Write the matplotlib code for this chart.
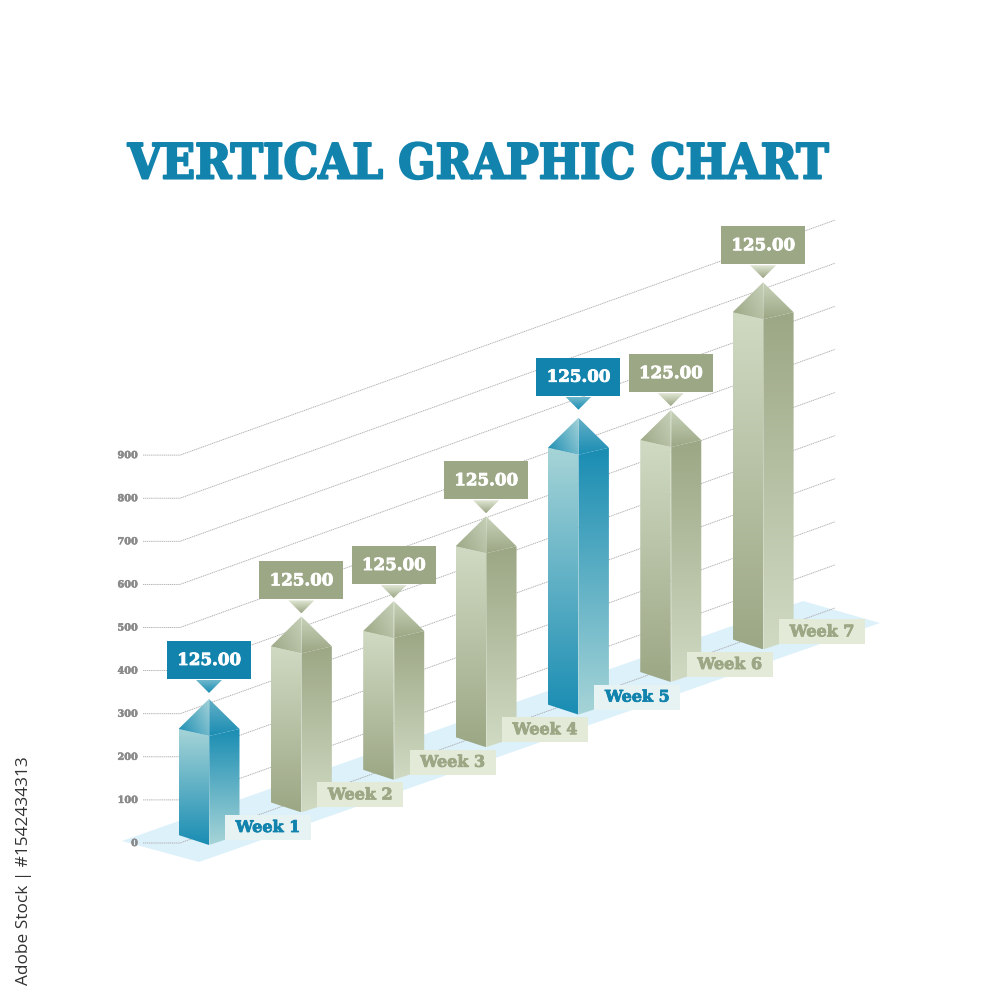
import numpy as np
import matplotlib
matplotlib.use('Agg')
import matplotlib.pyplot as plt
import matplotlib.patheffects as pe
from matplotlib.colors import to_rgb
from matplotlib.patches import Polygon, Rectangle

title = "VERTICAL GRAPHIC CHART"
weeks = ["Week 1", "Week 2", "Week 3", "Week 4", "Week 5", "Week 6", "Week 7"]
bar_values = [246, 362, 322, 443, 596, 538, 759]
bar_labels = ["125.00"] * 7
highlighted = [True, False, False, False, True, False, False]
ticks = [0, 100, 200, 300, 400, 500, 600, 700, 800, 900]

BLUE = '#1283ad'
OLIVE = '#9ca785'
SLAB = 'DejaVu Serif'

# isometric layout, everything in pixels of the 1000x1000 image
PX_PER_UNIT = 0.431
Y0 = 843
GRID_X0, GRID_X1 = 180, 835
GRID_RISE = 235
BAR_X0, BAR_DX = 209, 92.35
BAR_Y0, BAR_DY = 835, -32.6
HALF_W = 30.5
FRONT_DROP = 9
ROOF = 30
BOX_GAPS = [20, 17, 17, 17, 22, 18, 18]

STYLES = {
    True: dict(main=BLUE, light='#a6d4d7', mid='#1a8db3', roof_top='#a3d2d8', roof_right='#63afc6',
               box_text=BLUE, tag='#e7f3f3', ptr_top='#6fb8cc'),
    False: dict(main=OLIVE, light='#d0dac3', mid='#9ca785', roof_top='#c6d0b8', roof_right='#c9d3bb',
                box_text=OLIVE, tag='#e3ead8', ptr_top='#e0e6d4'),
}

fig = plt.figure(figsize=(10, 10), dpi=100)
ax = fig.add_axes([0, 0, 1, 1])


def heavy(color, width):
    # the slab face in the picture is heavier than DejaVu Serif Bold
    return [pe.withStroke(linewidth=width, foreground=color)]


def gradient(pts, start, end, angle=90, zorder=3):
    """Fill a polygon with a linear gradient, angle in degrees (90 = top to bottom)"""
    pts = np.array(pts, dtype=float)
    x0, y0 = pts.min(axis=0)
    x1, y1 = pts.max(axis=0)
    xx, yy = np.meshgrid(np.linspace(0, 1, 80), np.linspace(0, 1, 80))
    a = np.radians(angle)
    t = xx * np.cos(a) + yy * np.sin(a)
    t = (t - t.min()) / (t.max() - t.min())
    c0, c1 = np.array(to_rgb(start)), np.array(to_rgb(end))
    img = c0[None, None, :] * (1 - t[..., None]) + c1[None, None, :] * t[..., None]
    im = ax.imshow(img, extent=(x0, x1, y1, y0), aspect='auto', zorder=zorder, interpolation='bilinear')
    patch = Polygon(pts, closed=True, transform=ax.transData, fc='none', ec='none')
    ax.add_patch(patch)
    im.set_clip_path(patch)


# floor
floor_x = [122, 199, 880, 803]
floor_y = [841, 862, 623, 601]
ax.add_patch(Polygon(list(zip(floor_x, floor_y)), closed=True, fc='#ddf1fb', ec='none', zorder=1))

# grid lines and tick labels
for t in ticks:
    y = Y0 - t * PX_PER_UNIT
    ax.plot([143, GRID_X0, GRID_X1], [y, y, y - GRID_RISE], color='#a8a8a8', lw=0.6,
            ls=(0, (1.5, 0.8)), zorder=2)
    ax.text(138, y + 0.5, str(t), ha='right', va='center', fontsize=7, fontweight='bold',
            family=SLAB, color='#8a8a8a', zorder=2, path_effects=heavy('#8a8a8a', 0.4))

# bars, back to front is left to right here
for i, (week, value, label, hi) in enumerate(zip(weeks, bar_values, bar_labels, highlighted)):
    st = STYLES[hi]
    z = 3 + i * 0.1
    cx = BAR_X0 + i * BAR_DX
    base = BAR_Y0 + i * BAR_DY
    eave = base - value * PX_PER_UNIT
    apex = eave - ROOF
    lx, rx = cx - HALF_W, cx + HALF_W

    gradient([(lx, eave), (cx, eave + FRONT_DROP - 2), (cx, base + FRONT_DROP + 1), (lx, base)],
             st['light'], st['mid'], zorder=z)
    gradient([(cx, eave + FRONT_DROP - 2), (rx, eave), (rx, base), (cx, base + FRONT_DROP + 1)],
             st['mid'], st['light'], zorder=z)
    gradient([(cx, apex), (lx, eave), (cx, eave + FRONT_DROP - 2)],
             st['mid'], st['roof_top'], angle=-30, zorder=z)
    gradient([(cx, apex), (rx, eave), (cx, eave + FRONT_DROP - 2)],
             st['roof_right'], st['mid'], zorder=z)
    ax.plot([cx, cx], [apex, base + FRONT_DROP + 1], color='white', lw=0.4, alpha=0.4, zorder=z + 0.01)

    # value box with its pointer
    box_bottom = apex - BOX_GAPS[i]
    ax.add_patch(Rectangle((cx - 42, box_bottom - 38), 84, 38, fc=st['main'], ec='none', zorder=6))
    ax.text(cx, box_bottom - 18.5, label, ha='center', va='center', fontsize=12, fontweight='bold',
            family=SLAB, color='white', zorder=7, path_effects=heavy('white', 0.6))
    gradient([(cx - 13, box_bottom + 1), (cx + 13, box_bottom + 1), (cx, box_bottom + 14)],
             st['ptr_top'], st['mid'], zorder=6)

    # week tag
    ty = base + FRONT_DROP + 1
    ax.add_patch(Rectangle((cx + 16, ty - 30), 86, 25, fc=st['tag'], ec='none', zorder=5))
    ax.text(cx + 59, ty - 17.5, week, ha='center', va='center', fontsize=11.5, fontweight='bold',
            family=SLAB, color=st['box_text'], zorder=7, path_effects=heavy(st['box_text'], 0.6))

ax.text(478.5, 165, title, ha='center', va='center', fontsize=35, fontweight='bold', family=SLAB,
        stretch='condensed', color=BLUE, path_effects=heavy(BLUE, 1.5))

ax.text(24, 871, "Adobe Stock | #1542434313", rotation=90, ha='center', va='center', fontsize=12.4,
        family='Open Sans', color='#333333')

ax.set_xlim(0, 1000)
ax.set_ylim(1000, 0)
ax.axis('off')
fig.savefig('out.png', dpi=100, facecolor='white')
